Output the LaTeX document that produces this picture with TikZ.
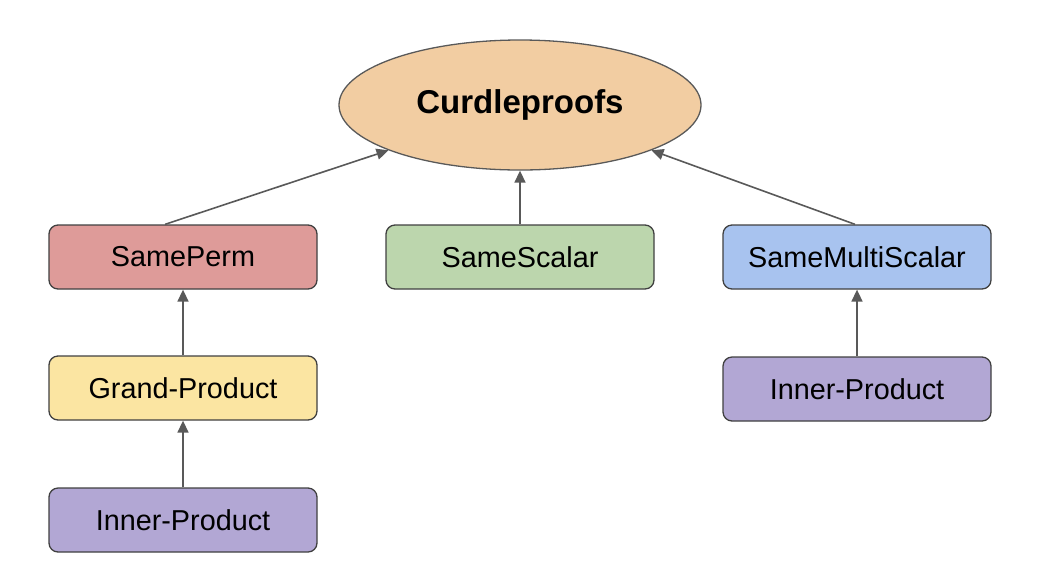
\documentclass[tikz,border=0pt]{standalone}
\usepackage{fontspec}
\setmainfont{Liberation Sans}
\usetikzlibrary{shapes.geometric,arrows.meta,calc}
\definecolor{edgegray}{HTML}{595959}
\definecolor{cOrange}{HTML}{F2CDA2}
\definecolor{cRed}{HTML}{DE9B99}
\definecolor{cGreen}{HTML}{BCD6AD}
\definecolor{cBlue}{HTML}{A8C3EF}
\definecolor{cYellow}{HTML}{FBE5A2}
\definecolor{cPurple}{HTML}{B2A7D4}
\begin{document}
\begin{tikzpicture}[x=1pt,y=-1pt,
  box/.style={draw=black!75,line width=1.3pt,rounded corners=9pt,minimum width=268pt,minimum height=64pt,inner sep=0pt,font=\fontsize{28.8}{33}\selectfont},
  conn/.style={draw=edgegray,line width=1.6pt,-{Triangle[length=12pt,width=11pt]}}]
\useasboundingbox (0,0) rectangle (1056,582);
\node[ellipse,draw=edgegray,line width=1.3pt,fill=cOrange,minimum width=362pt,minimum height=130pt,inner sep=0pt,font=\fontsize{33}{38}\selectfont\bfseries] (top) at (520,105) {Curdleproofs};
\node[box,fill=cRed] (sp) at (183,257) {SamePerm};
\node[box,fill=cGreen] (ss) at (520,257) {SameScalar};
\node[box,fill=cBlue] (sms) at (857,257) {SameMultiScalar};
\node[box,fill=cYellow] (gp) at (183,388) {Grand-Product};
\node[box,fill=cPurple] (ipl) at (183,520) {Inner-Product};
\node[box,fill=cPurple] (ipr) at (857,389) {Inner-Product};
\coordinate (spout) at ($(sp.north)+(-18,0)$);
\coordinate (smsout) at ($(sms.north)+(-2,0)$);
\draw[conn] (spout) -- (top.199.5);
\draw[conn] (ss.north) -- (top.south);
\draw[conn] (smsout) -- (top.341);
\draw[conn] (gp.north) -- (sp.south);
\draw[conn] (ipl.north) -- (gp.south);
\draw[conn] (ipr.north) -- (sms.south);
\end{tikzpicture}
\end{document}
